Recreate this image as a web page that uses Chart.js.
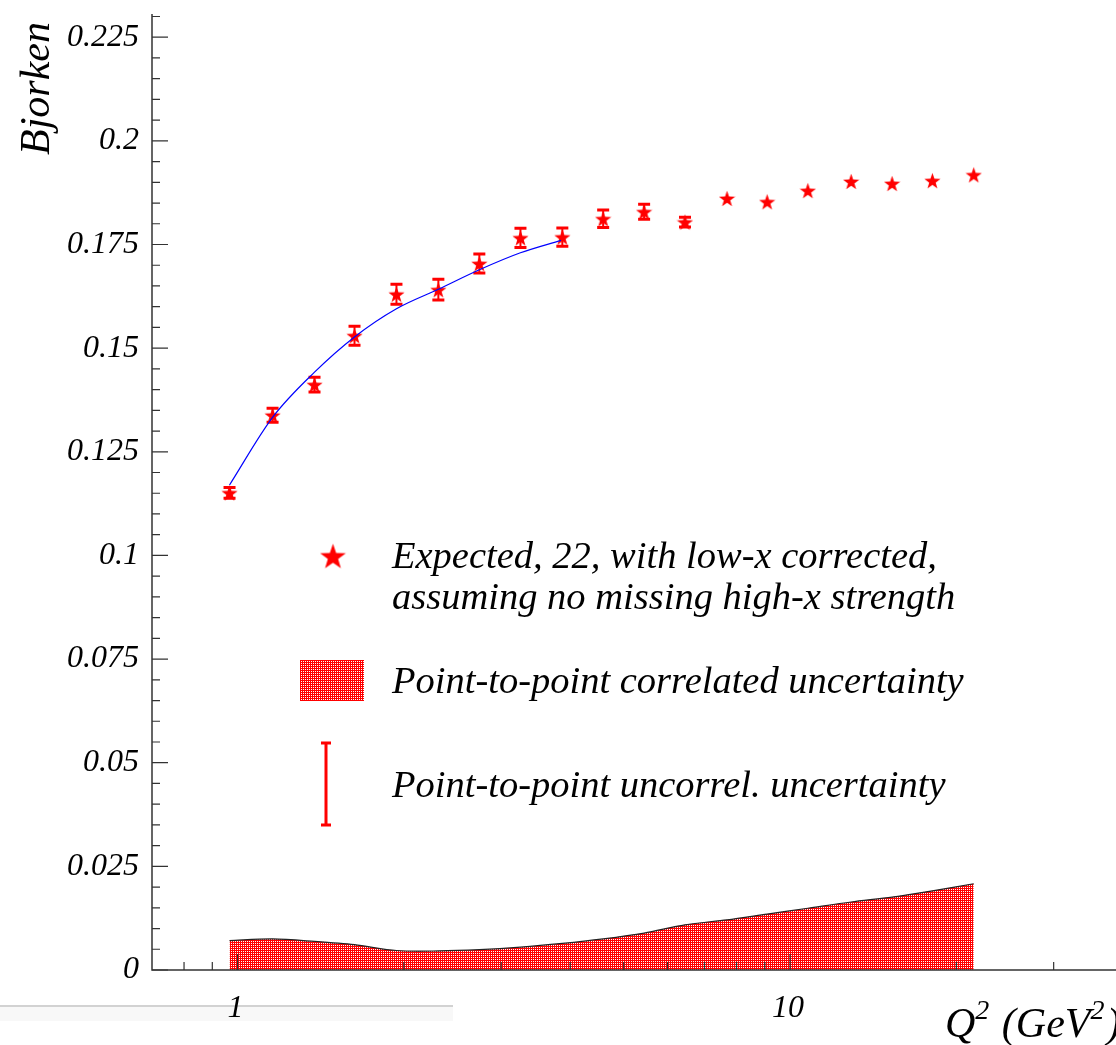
<!DOCTYPE html>
<html>
<head>
<meta charset="utf-8">
<script src="https://cdn.jsdelivr.net/npm/chart.js@4.4.0/dist/chart.umd.min.js"></script>
<style>
  html, body { margin: 0; padding: 0; background: #fff; }
  #wrap { width: 1116px; height: 1045px; }
</style>
</head>
<body>
<div id="wrap"><canvas id="chart" width="1116" height="1045"></canvas></div>
<script>
// Q^2 (GeV^2) of each point
const q2 = [0.967, 1.157, 1.378, 1.628, 1.939, 2.309, 2.739, 3.251, 3.871, 4.589,
            5.443, 6.454, 7.69, 9.09, 10.77, 12.9, 15.3, 18.1, 21.5];
// Bjorken integral, expected
const bjorken = [0.1151, 0.1338, 0.1412, 0.1530, 0.1630, 0.1641, 0.1704, 0.1766, 0.1768, 0.1812,
                 0.1829, 0.1804, 0.1861, 0.1853, 0.1880, 0.1902, 0.1897, 0.1904, 0.1918];
// point-to-point uncorrelated uncertainty (none drawn for the last points)
const uncorrErr = [0.0013, 0.0017, 0.0018, 0.0023, 0.0024, 0.0025, 0.0023, 0.0023, 0.0022, 0.0021,
                   0.0018, 0.0012, 0, 0, 0, 0, 0, 0, 0];
// point-to-point correlated uncertainty band
const corrBand = [0.0071, 0.0075, 0.0069, 0.0061, 0.0047, 0.0046, 0.0049, 0.0055, 0.0064, 0.0075,
                  0.0089, 0.0109, 0.0121, 0.0135, 0.0149, 0.0164, 0.0176, 0.0191, 0.0208];
// blue fit curve
const fitQ2 = [0.967, 1.157, 1.378, 1.628, 1.939, 2.309, 2.739, 3.251, 3.85];
const fitValues = [0.1170, 0.1333, 0.1442, 0.1527, 0.1595, 0.1642, 0.1689, 0.1730, 0.1760];

const yMajorTicks = [0, 0.025, 0.05, 0.075, 0.1, 0.125, 0.15, 0.175, 0.2, 0.225];
const yTickLabels = ['0', '0.025', '0.05', '0.075', '0.1', '0.125', '0.15', '0.175', '0.2', '0.225'];
const xMajorTicks = [1, 10];
const xTickLabels = ['1', '10'];
const xMinorTicks = [0.8, 0.9, 2, 3, 4, 5, 6, 7, 8, 9, 20, 30];

const legendLines = ['Expected, 22, with low-x corrected,', 'assuming no missing high-x strength'];
const legendCorr = 'Point-to-point correlated uncertainty';
const legendUncorr = 'Point-to-point uncorrel. uncertainty';

const RED = '#ff0000';
const FONT = '"Liberation Serif", "DejaVu Serif", serif';

function makeStar(size) {
  const c = document.createElement('canvas');
  c.width = size; c.height = size;
  const g = c.getContext('2d');
  const cx = size / 2, cy = size / 2 + size * 0.05, R = size / 2, r = R * 0.4;
  g.beginPath();
  for (let i = 0; i < 10; i++) {
    const rad = i % 2 === 0 ? R : r;
    const ang = -Math.PI / 2 + i * Math.PI / 5;
    g.lineTo(cx + rad * Math.cos(ang), cy + rad * Math.sin(ang));
  }
  g.closePath();
  g.fillStyle = RED;
  g.fill();
  return c;
}

// red fill with a fine grid of white dots
function makeHatch() {
  const c = document.createElement('canvas');
  c.width = 2; c.height = 2;
  const g = c.getContext('2d');
  g.fillStyle = RED;
  g.fillRect(0, 0, 2, 2);
  g.fillStyle = '#ffffff';
  g.fillRect(1, 1, 1, 1);
  return g.createPattern(c, 'repeat');
}

const starPoint = makeStar(17);
const starLegend = makeStar(27);
const hatch = makeHatch();

const errorBars = {
  id: 'errorBars',
  beforeDatasetDraw(chart, args) {
    if (args.index !== 2) return;
    const { ctx, scales: { x, y } } = chart;
    ctx.save();
    ctx.strokeStyle = RED;
    q2.forEach((q, i) => {
      if (!uncorrErr[i]) return;
      const px = x.getPixelForValue(q);
      const top = y.getPixelForValue(bjorken[i] + uncorrErr[i]);
      const bot = y.getPixelForValue(bjorken[i] - uncorrErr[i]);
      ctx.lineWidth = 2;
      ctx.beginPath(); ctx.moveTo(px, top); ctx.lineTo(px, bot); ctx.stroke();
      ctx.lineWidth = 3;
      ctx.beginPath();
      ctx.moveTo(px - 6, top); ctx.lineTo(px + 6, top);
      ctx.moveTo(px - 6, bot); ctx.lineTo(px + 6, bot);
      ctx.stroke();
    });
    ctx.restore();
  }
};

const rootFrame = {
  id: 'rootFrame',
  beforeDraw(chart) {
    const ctx = chart.ctx;
    ctx.save();
    ctx.fillStyle = '#f8f8f8';
    ctx.fillRect(0, 1007, 453, 14);
    ctx.strokeStyle = '#d2d2d2';
    ctx.lineWidth = 2;
    ctx.beginPath(); ctx.moveTo(0, 1006); ctx.lineTo(453, 1006); ctx.stroke();
    ctx.restore();
  },
  afterDraw(chart) {
    const { ctx, chartArea: a, scales: { x, y } } = chart;
    ctx.save();
    ctx.strokeStyle = '#333';
    ctx.lineWidth = 1.5;
    ctx.beginPath();
    ctx.moveTo(a.left, a.top); ctx.lineTo(a.left, a.bottom); ctx.lineTo(a.right, a.bottom);
    ctx.stroke();

    // y ticks, pointing into the frame
    ctx.lineWidth = 1.2;
    ctx.beginPath();
    for (let i = 0; i <= 46; i++) {
      const py = y.getPixelForValue(i * 0.005);
      ctx.moveTo(a.left, py);
      ctx.lineTo(a.left + (i % 5 === 0 ? 16 : 8), py);
    }
    // x ticks
    xMajorTicks.forEach(v => {
      const px = x.getPixelForValue(v);
      ctx.moveTo(px, a.bottom); ctx.lineTo(px, a.bottom - 16);
    });
    xMinorTicks.forEach(v => {
      const px = x.getPixelForValue(v);
      ctx.moveTo(px, a.bottom); ctx.lineTo(px, a.bottom - 8);
    });
    ctx.stroke();

    ctx.fillStyle = '#000';
    ctx.font = 'italic 32px ' + FONT;
    ctx.textAlign = 'right';
    ctx.textBaseline = 'middle';
    yMajorTicks.forEach((v, i) => ctx.fillText(yTickLabels[i], a.left - 13, y.getPixelForValue(v)));
    ctx.textAlign = 'center';
    xMajorTicks.forEach((v, i) => ctx.fillText(xTickLabels[i], x.getPixelForValue(v) - 2, 1009));

    // axis titles
    ctx.font = 'italic 42px ' + FONT;
    ctx.textAlign = 'left';
    ctx.textBaseline = 'alphabetic';
    ctx.save();
    ctx.translate(49, 155);
    ctx.rotate(-Math.PI / 2);
    ctx.fillText('Bjorken', 0, 0);
    ctx.restore();

    let tx = 945;
    const base = 1037;
    const pieces = [['Q', false], ['2', true], [' (GeV', false], ['2', true], [')', false]];
    pieces.forEach(([s, sup]) => {
      ctx.font = 'italic ' + (sup ? 28 : 42) + 'px ' + FONT;
      ctx.fillText(s, tx, sup ? base - 18 : base);
      tx += ctx.measureText(s).width + (sup ? 2 : 0);
    });

    // legend
    ctx.drawImage(starLegend, 333 - 13.5, 556 - 13.5);
    ctx.font = 'italic 38.5px ' + FONT;
    ctx.fillText(legendLines[0], 392, 568);
    ctx.fillText(legendLines[1], 392, 609);
    ctx.fillStyle = hatch;
    ctx.fillRect(300, 660, 64, 41);
    ctx.fillStyle = '#000';
    ctx.fillText(legendCorr, 392, 693);
    ctx.fillText(legendUncorr, 392, 797);
    ctx.strokeStyle = RED;
    ctx.lineWidth = 3;
    ctx.beginPath();
    ctx.moveTo(326, 743); ctx.lineTo(326, 825);
    ctx.moveTo(321, 743); ctx.lineTo(331, 743);
    ctx.moveTo(321, 825); ctx.lineTo(331, 825);
    ctx.stroke();
    ctx.restore();
  }
};

new Chart(document.getElementById('chart'), {
  type: 'scatter',
  data: {
    datasets: [
      {
        label: 'correlated',
        data: q2.map((q, i) => ({ x: q, y: corrBand[i] })),
        showLine: true,
        fill: 'origin',
        backgroundColor: hatch,
        borderColor: '#222',
        borderWidth: 1.2,
        pointRadius: 0,
        tension: 0.3
      },
      {
        label: 'fit',
        data: fitQ2.map((q, i) => ({ x: q, y: fitValues[i] })),
        showLine: true,
        fill: false,
        borderColor: '#0000ff',
        borderWidth: 1.2,
        pointRadius: 0,
        cubicInterpolationMode: 'monotone'
      },
      {
        label: 'expected',
        data: q2.map((q, i) => ({ x: q, y: bjorken[i] })),
        pointStyle: starPoint,
        pointRadius: 8,
        showLine: false
      }
    ]
  },
  options: {
    responsive: false,
    animation: false,
    devicePixelRatio: 1,
    layout: { autoPadding: false, padding: { left: 152, right: 0, top: 14, bottom: 75 } },
    plugins: { legend: { display: false }, tooltip: { enabled: false } },
    scales: {
      x: { type: 'logarithmic', min: 0.7, max: 38.9, display: false },
      y: { type: 'linear', min: 0, max: 0.2306, display: false }
    }
  },
  plugins: [errorBars, rootFrame]
});
</script>
</body>
</html>
